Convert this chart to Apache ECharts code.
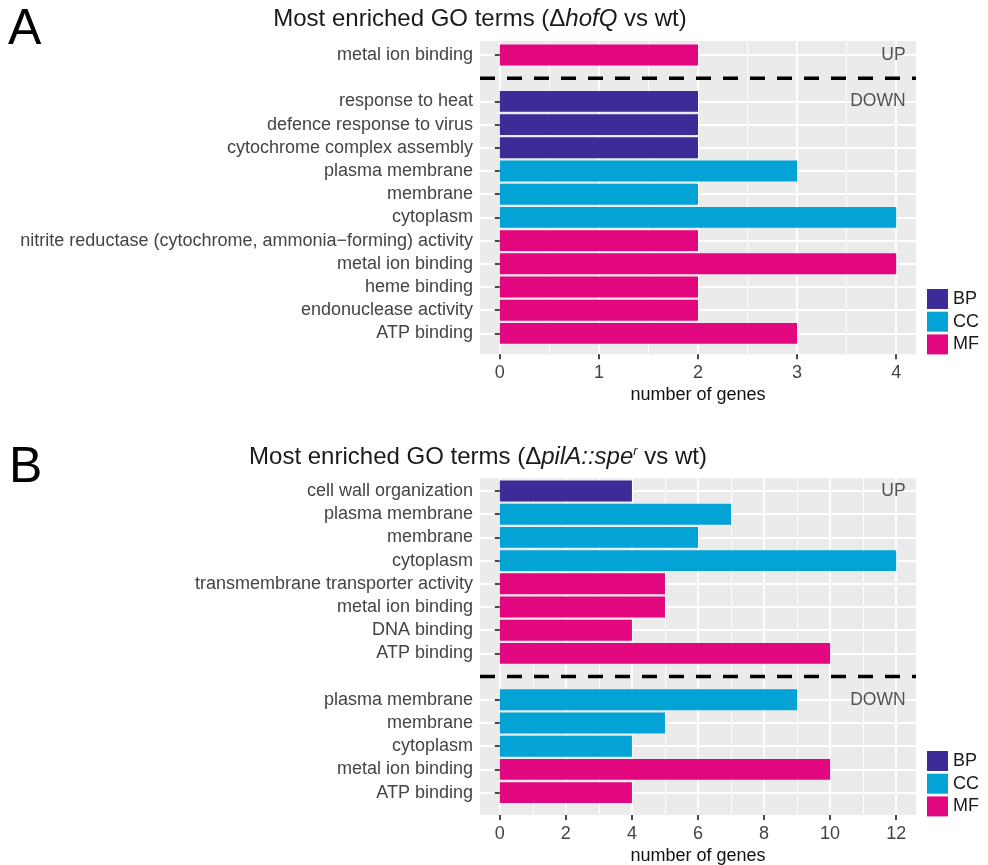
<!DOCTYPE html>
<html>
<head>
<meta charset="utf-8">
<title>Most enriched GO terms</title>
<script src="https://cdn.jsdelivr.net/npm/echarts@6/dist/echarts.min.js"></script>
<style>
  html, body { margin: 0; padding: 0; background: #ffffff; }
  #chart { width: 988px; height: 865px; }
</style>
</head>
<body>
<div id="chart"></div>
<script>
// ---- Panel A: ΔhofQ vs wt ----
const termsA = [
  'metal ion binding', '',
  'response to heat', 'defence response to virus', 'cytochrome complex assembly',
  'plasma membrane', 'membrane', 'cytoplasm',
  'nitrite reductase (cytochrome, ammonia\u2212forming) activity',
  'metal ion binding', 'heme binding', 'endonuclease activity', 'ATP binding'
];
const groupsA = ['MF', '', 'BP', 'BP', 'BP', 'CC', 'CC', 'CC', 'MF', 'MF', 'MF', 'MF', 'MF'];
const genesA = [2, null, 2, 2, 2, 3, 2, 4, 2, 4, 2, 2, 3];
const ticksA = [0, 1, 2, 3, 4];
const dividerRowA = 1;
const regulationA = [['UP', 0], ['DOWN', 2]];

// ---- Panel B: ΔpilA::spe^r vs wt ----
const termsB = [
  'cell wall organization', 'plasma membrane', 'membrane', 'cytoplasm',
  'transmembrane transporter activity', 'metal ion binding', 'DNA binding', 'ATP binding',
  '',
  'plasma membrane', 'membrane', 'cytoplasm', 'metal ion binding', 'ATP binding'
];
const groupsB = ['BP', 'CC', 'CC', 'CC', 'MF', 'MF', 'MF', 'MF', '', 'CC', 'CC', 'CC', 'MF', 'MF'];
const genesB = [4, 7, 6, 12, 5, 5, 4, 10, null, 9, 5, 4, 10, 4];
const ticksB = [0, 2, 4, 6, 8, 10, 12];
const dividerRowB = 8;
const regulationB = [['UP', 0], ['DOWN', 9]];

const ontologies = ['BP', 'CC', 'MF'];
const ontologyColors = { BP: '#3d2b97', CC: '#03a3d5', MF: '#e2067f' };

const FONT = '"Liberation Sans", Arial, Helvetica, sans-serif';
const PANEL_BG = '#EBEBEB';
const AXIS_TEXT = '#444444';
const TICK_COLOR = '#333333';
const BASE_SIZE = 18;

// layout of each panel (pixels)
const panels = [
  { terms: termsA, groups: groupsA, genes: genesA, ticks: ticksA, divider: dividerRowA, regulation: regulationA,
    top: 41, height: 313.3, rowTop: 55, rowStep: 23.2, legendTop: 289 },
  { terms: termsB, groups: groupsB, genes: genesB, ticks: ticksB, divider: dividerRowB, regulation: regulationB,
    top: 478.3, height: 336.7, rowTop: 491, rowStep: 23.2, legendTop: 751 }
];

const PLOT_LEFT = 480;
const PLOT_WIDTH = 436;

const grid = [], xAxis = [], yAxis = [], series = [], legend = [];

panels.forEach((p, k) => {
  const g = k * 3;
  const max = p.ticks[p.ticks.length - 1];
  const step = p.ticks[1] - p.ticks[0];
  const lo = -0.05 * max, hi = 1.05 * max;
  const zeroLeft = PLOT_LEFT + PLOT_WIDTH * (0 - lo) / (hi - lo);
  const spanWidth = PLOT_WIDTH * max / (hi - lo);
  const notBlank = (i, v) => v !== '';

  // grey panel background
  grid.push({ left: PLOT_LEFT, top: p.top, width: PLOT_WIDTH, height: p.height,
    show: true, backgroundColor: PANEL_BG, borderWidth: 0, outerBoundsMode: 'none', containLabel: false });
  xAxis.push({ gridIndex: g, type: 'value', show: false, min: 0, max: 1 });
  yAxis.push({ gridIndex: g, type: 'value', show: false, min: 0, max: 1 });

  // value axis: ticks, labels, vertical grid lines
  grid.push({ left: zeroLeft, top: p.top, width: spanWidth, height: p.height,
    show: false, outerBoundsMode: 'none', containLabel: false });
  xAxis.push({
    gridIndex: g + 1, type: 'value', min: p.ticks[0], max: max, interval: step,
    name: 'number of genes', nameLocation: 'middle', nameGap: 32,
    nameTextStyle: { fontSize: BASE_SIZE, color: '#111', fontFamily: FONT },
    axisLine: { show: false },
    axisTick: { show: true, length: 5, lineStyle: { color: TICK_COLOR, width: 1.8 } },
    axisLabel: { show: true, fontSize: BASE_SIZE, color: AXIS_TEXT, margin: 10, fontFamily: FONT,
      showMinLabel: true, showMaxLabel: true },
    splitLine: { show: true, lineStyle: { color: '#ffffff', width: 1.8 } },
    minorTick: { show: false, splitNumber: 2 },
    minorSplitLine: { show: true, lineStyle: { color: '#ffffff', width: 0.9 } }
  });
  yAxis.push({ gridIndex: g + 1, type: 'value', show: false, min: 0, max: 1 });

  // category rows: term labels, horizontal grid lines, bars
  grid.push({ left: PLOT_LEFT, top: p.rowTop, width: PLOT_WIDTH, height: p.rowStep * (p.terms.length - 1),
    show: false, outerBoundsMode: 'none', containLabel: false });
  xAxis.push({ gridIndex: g + 2, type: 'value', show: false, min: lo, max: hi });
  yAxis.push({
    gridIndex: g + 2, type: 'category', inverse: true, boundaryGap: false, data: p.terms,
    axisLine: { show: false },
    axisTick: { show: true, length: 5, interval: notBlank, lineStyle: { color: TICK_COLOR, width: 1.8 } },
    axisLabel: { show: true, interval: 0, fontSize: BASE_SIZE, color: AXIS_TEXT, margin: 7, fontFamily: FONT },
    splitLine: { show: true, interval: notBlank, lineStyle: { color: '#ffffff', width: 1.8 } }
  });

  ontologies.forEach(o => {
    series.push({
      name: o, type: 'bar', xAxisIndex: g + 2, yAxisIndex: g + 2, stack: 'panel' + k,
      barWidth: '90%', clip: false, silent: true,
      itemStyle: { color: ontologyColors[o] },
      data: p.genes.map((v, i) => (p.groups[i] === o ? v : null))
    });
  });

  // dashed divider between up- and down-regulated terms
  series.push({
    type: 'line', xAxisIndex: g + 2, yAxisIndex: g + 2, silent: true, symbol: 'none',
    lineStyle: { color: '#000000', width: 3.5, type: [15, 12] },
    data: [[lo, p.divider], [hi, p.divider]]
  });

  // UP / DOWN annotations, right-aligned near the panel edge
  const annX = hi - 0.0227 * (hi - lo);
  series.push({
    type: 'scatter', xAxisIndex: g + 2, yAxisIndex: g + 2, silent: true,
    symbolSize: 1, itemStyle: { color: 'rgba(0,0,0,0)' },
    label: { show: true, position: 'left', distance: 0, fontSize: 17.5, color: '#2b2b2b', fontFamily: FONT,
      formatter: d => d.data[2] },
    data: p.regulation.map(r => [annX, r[1], r[0]])
  });

  legend.push({
    orient: 'vertical', left: 927, top: p.legendTop, padding: 0,
    itemWidth: 21, itemHeight: 20, itemGap: 2.7, icon: 'rect', selectedMode: false,
    data: ontologies,
    textStyle: { fontSize: BASE_SIZE, color: '#1a1a1a', fontFamily: FONT }
  });
});

const titleRich = {
  n: { fontSize: 24, fontFamily: FONT, fill: '#1a1a1a' },
  i: { fontSize: 24, fontFamily: FONT, fontStyle: 'italic', fill: '#1a1a1a' },
  s: { fontSize: 13, fontFamily: FONT, fontStyle: 'italic', fill: '#1a1a1a', verticalAlign: 'top' }
};

const graphic = [
  { type: 'text', x: 8, y: 30, silent: true,
    style: { text: 'A', fontSize: 50, fontFamily: FONT, fill: '#000', align: 'left', verticalAlign: 'middle' } },
  { type: 'text', x: 9, y: 468, silent: true,
    style: { text: 'B', fontSize: 50, fontFamily: FONT, fill: '#000', align: 'left', verticalAlign: 'middle' } },
  { type: 'text', x: 480, y: 19, silent: true,
    style: { text: '{n|Most enriched GO terms (\u0394}{i|hofQ}{n| vs wt)}', rich: titleRich,
      align: 'center', verticalAlign: 'middle' } },
  { type: 'text', x: 478, y: 457, silent: true,
    style: { text: '{n|Most enriched GO terms (\u0394}{i|pilA::spe}{s|r}{n| vs wt)}', rich: titleRich,
      align: 'center', verticalAlign: 'middle' } }
];

const chart = echarts.init(document.getElementById('chart'), null, { renderer: 'canvas' });
chart.setOption({
  animation: false,
  backgroundColor: '#ffffff',
  textStyle: { fontFamily: FONT },
  tooltip: { show: false },
  grid, xAxis, yAxis, series, legend, graphic
});
</script>
</body>
</html>
